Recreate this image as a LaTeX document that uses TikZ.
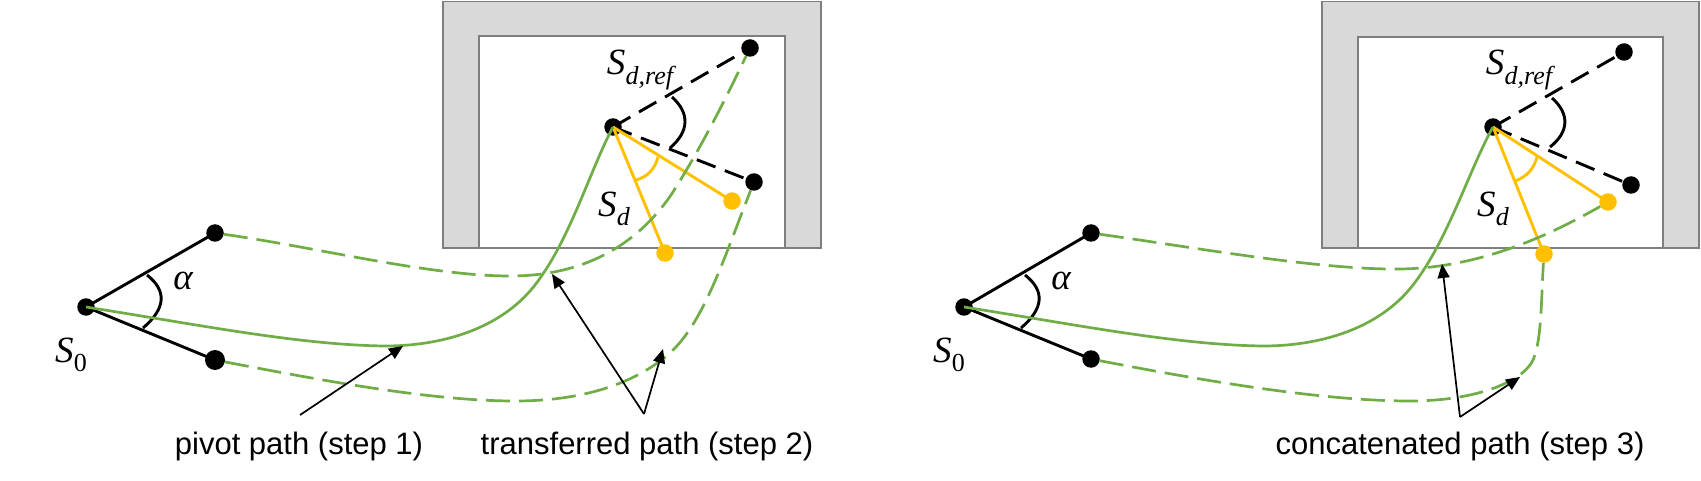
\documentclass[tikz,border=0pt]{standalone}
\usepackage{fontspec}
\setmainfont{Liberation Sans}
\newfontfamily\mathserif{Liberation Serif}
\usetikzlibrary{arrows.meta}
\definecolor{wallgray}{RGB}{217,217,217}
\definecolor{wallline}{RGB}{127,127,127}
\definecolor{pathgreen}{RGB}{112,173,71}
\definecolor{gold}{RGB}{255,192,0}
\newcommand{\symsub}[2]{{\mathserif\itshape #1}\kern0.01em\raisebox{-0.26em}{\fontsize{26}{30}\selectfont\mathserif #2}}
\tikzset{
  x=1pt,y=-1pt,
  wall/.style={draw=wallline,fill=wallgray,line width=1.8pt},
  room/.style={draw=wallline,line width=1.8pt},
  dotk/.style={circle,fill=black,inner sep=0pt,minimum size=17.5pt},
  doty/.style={circle,fill=gold,inner sep=0pt,minimum size=17.5pt},
  solidk/.style={draw=black,line width=2.9pt},
  dashk/.style={draw=black,line width=2.9pt,dash pattern=on 20pt off 10pt},
  linegold/.style={draw=gold,line width=2.9pt},
  pathsolid/.style={draw=pathgreen,line width=2.7pt},
  pathdash/.style={draw=pathgreen,line width=2.7pt,dash pattern=on 24pt off 9pt},
  callout/.style={draw=black,line width=1.7pt,-{Triangle[length=14pt,width=12pt]}},
  lab/.style={inner sep=0pt,font=\fontsize{31}{36}\selectfont},
  mathlab/.style={inner sep=0pt,font=\fontsize{37}{40}\selectfont},
}
\begin{document}
\begin{tikzpicture}
\useasboundingbox (0,0) rectangle (1701,481);
% ---------- left panel
\draw[wall] (443,1.5) -- (821,1.5) -- (821,248) -- (785,248) -- (785,36) -- (479,36) -- (479,248) -- (443,248) -- cycle;
\draw[room] (479,248) -- (785,248);
\node[dotk] (a0) at (86,307) {};
\node[dotk] (a1) at (215,233) {};
\node[dotk,minimum size=20pt] (a2) at (215,360) {};
\node[dotk] (ad) at (613,127) {};
\node[dotk] (ar1) at (750,48) {};
\node[dotk] (ar2) at (754,182) {};
\node[doty] (ay1) at (732,201) {};
\node[doty] (ay2) at (665,253) {};
\draw[solidk] (a0.center) -- (a1.center);
\draw[solidk] (a0.center) -- (a2.center);
\draw[dashk] (ad.center) -- (ar1.center);
\draw[dashk] (ad.center) -- (ar2.center);
\draw[linegold] (ad.center) -- (ay1.center);
\draw[linegold] (ad.center) -- (ay2.center);
\draw[solidk] (147,275) .. controls (167,290.7) and (166,308.3) .. (143,328);
\draw[solidk] (672,97) .. controls (690,113.3) and (689.3,131.3) .. (670,148);
\draw[linegold] (658,157) .. controls (654.7,169.3) and (647.3,177) .. (636,180);
\draw[pathsolid] (a0.center) .. controls (200,325) and (300,345) .. (385,346) .. controls (440,346) and (500,330) .. (535,285) .. controls (570,240) and (590,170) .. (ad.center);
\draw[pathdash] (a1) .. controls (320,248) and (430,276) .. (510,276) .. controls (590,276) and (640,240) .. (671,195) .. controls (700,150) and (725,100) .. (ar1);
\draw[pathdash] (a2) .. controls (320,380) and (430,401) .. (515,401) .. controls (590,401) and (640,380) .. (671,352) .. controls (705,320) and (725,255) .. (ar2);
\coordinate (ac1) at (300,415);
\coordinate (at1) at (403,346);
\coordinate (aapex) at (644,414);
\coordinate (at2) at (552,274);
\coordinate (at3) at (663,349);
\draw[callout] (ac1) -- (at1);
\draw[callout] (aapex) -- (at2);
\draw[callout] (aapex) -- (at3);
\node[mathlab] (asref) at (640,70) {\symsub{S}{\itshape d,ref}};
\node[mathlab] (asd) at (614,209) {\symsub{S}{\itshape d}};
\node[mathlab] (as0) at (71,355) {\symsub{S}{0}};
\node[mathlab] (aal) at (183,281) {{\mathserif\itshape α}};
\node[lab] (pivot) at (299,446) {pivot path (step 1)};
\node[lab] (transf) at (647,446) {transferred path (step 2)};
% ---------- right panel
\draw[wall] (1322,1.5) -- (1699,1.5) -- (1699,248) -- (1663,248) -- (1663,37) -- (1358,37) -- (1358,248) -- (1322,248) -- cycle;
\draw[room] (1358,248) -- (1663,248);
\node[dotk] (b0) at (964,307) {};
\node[dotk] (b1) at (1091,233) {};
\node[dotk] (b2) at (1091,359) {};
\node[dotk] (bd) at (1493,127) {};
\node[dotk] (br1) at (1624,52) {};
\node[dotk] (br2) at (1631,185) {};
\node[doty] (by1) at (1608,202) {};
\node[doty] (by2) at (1544,254) {};
\draw[solidk] (b0.center) -- (b1.center);
\draw[solidk] (b0.center) -- (b2.center);
\draw[dashk] (bd.center) -- (br1.center);
\draw[dashk] (bd.center) -- (br2.center);
\draw[linegold] (bd.center) -- (by1.center);
\draw[linegold] (bd.center) -- (by2.center);
\draw[solidk] (1025,275) .. controls (1045,290.7) and (1044,308.3) .. (1021,328);
\draw[solidk] (1552,98) .. controls (1570,114) and (1569,132) .. (1550,147);
\draw[linegold] (1537,157) .. controls (1533.7,169.3) and (1526.3,177) .. (1515,181);
\draw[pathsolid] (b0.center) .. controls (1078,325) and (1178,345) .. (1263,346) .. controls (1318,346) and (1378,330) .. (1413,285) .. controls (1448,240) and (1469,170) .. (bd.center);
\draw[pathdash] (b1) .. controls (1198,248) and (1320,270) .. (1400,269) .. controls (1480,268) and (1550,235) .. (by1);
\draw[pathdash] (b2) .. controls (1200,380) and (1320,401) .. (1410,401) .. controls (1470,401) and (1515,385) .. (1530,365) .. controls (1542,350) and (1541,300) .. (by2);
\coordinate (bapex) at (1460,417);
\coordinate (bt2) at (1442,264);
\coordinate (bt3) at (1520,377);
\draw[callout] (bapex) -- (bt2);
\draw[callout] (bapex) -- (bt3);
\node[mathlab] (bsref) at (1519,70) {\symsub{S}{\itshape d,ref}};
\node[mathlab] (bsd) at (1493,209) {\symsub{S}{\itshape d}};
\node[mathlab] (bs0) at (949,355) {\symsub{S}{0}};
\node[mathlab] (bal) at (1061,281) {{\mathserif\itshape α}};
\node[lab] (conc) at (1460,446) {concatenated path (step 3)};
\end{tikzpicture}
\end{document}
